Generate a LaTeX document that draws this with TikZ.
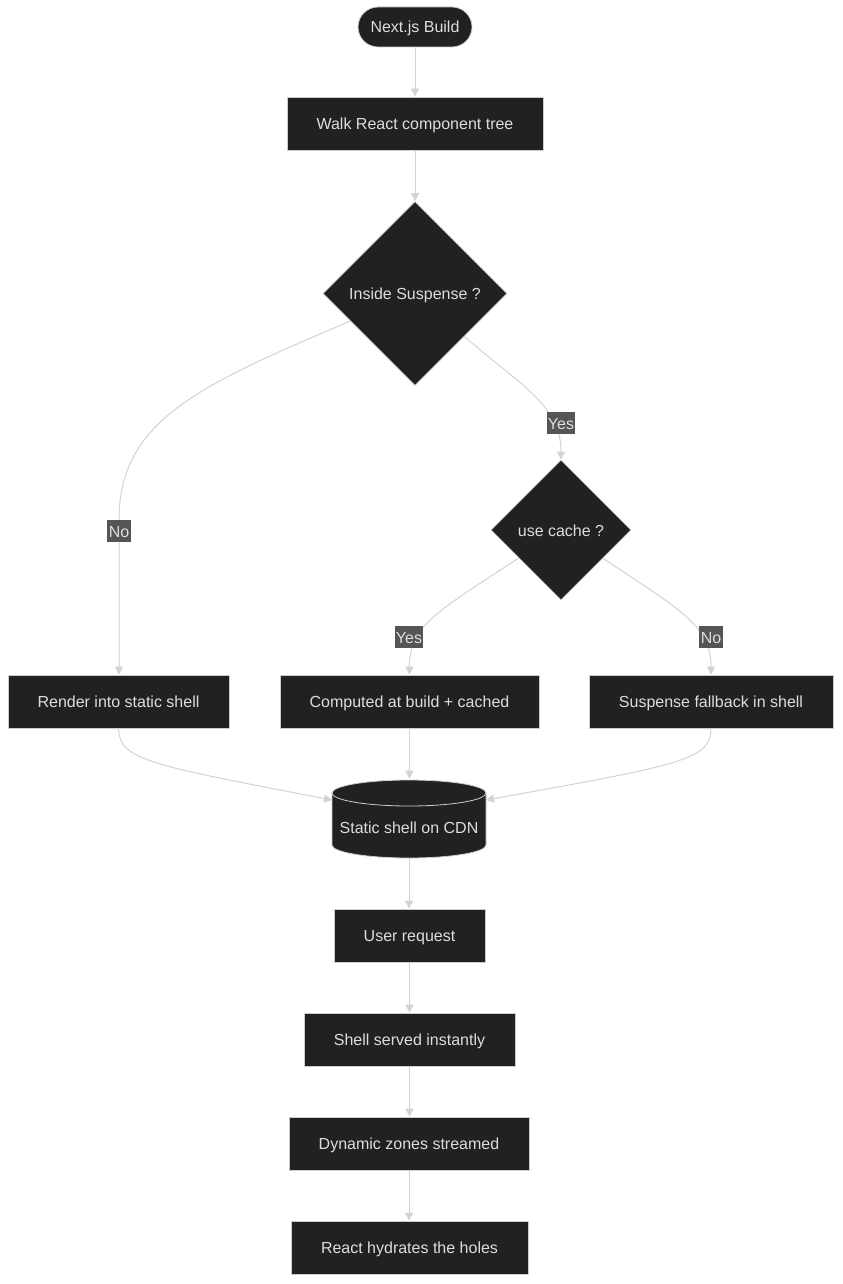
\documentclass[tikz,border=0pt]{standalone}
\usepackage{fontspec}
\setmainfont{Liberation Sans}
\usetikzlibrary{shapes.geometric,arrows.meta,calc}
\definecolor{nodefill}{RGB}{32,34,33}
\definecolor{nodeborder}{RGB}{204,204,204}
\definecolor{nodetext}{RGB}{221,221,221}
\definecolor{edgecol}{RGB}{211,211,211}
\definecolor{lblfill}{RGB}{85,85,85}
\begin{document}
\begin{tikzpicture}[x=0.75pt,y=-0.75pt,
  base/.style={fill=nodefill, draw=nodeborder, line width=0.6pt, text=nodetext,
    font=\fontsize{12}{14}\selectfont, inner sep=0pt, text height=9pt, text depth=0pt},
  box/.style={base, rectangle, minimum height=39.75pt},
  term/.style={base, rectangle, rounded corners=15pt, minimum height=30pt, minimum width=85.5pt},
  decide/.style={base, diamond, aspect=1},
  cylnode/.style={rectangle, inner sep=0pt, text=nodetext, font=\fontsize{12}{14}\selectfont,
    minimum width=115.5pt, minimum height=59.25pt, text height=9pt, text depth=0pt},
  edge/.style={draw=edgecol, line width=0.75pt, -{Triangle[length=6pt,width=6pt]}},
  lbl/.style={fill=lblfill, text=nodetext, font=\fontsize{12}{14}\selectfont, inner sep=1pt,
    minimum height=17pt, text height=9pt, text depth=0pt}
]
\useasboundingbox (0,0) rectangle (842,1284);
\fill[white] (0,0) rectangle (842,1284);

% nodes
\node[term] (build) at (415,27) {Next.js Build};
\node[box, minimum width=192pt] (walk) at (415,123.5) {Walk React component tree};
\node[decide, minimum width=138pt, minimum height=138pt] (inside) at (415,293.5) {Inside Suspense ?};
\node[decide, minimum width=105pt, minimum height=105pt] (ucache) at (561,530) {use cache ?};
\node[box, minimum width=165.75pt] (render) at (118.5,701.5) {Render into static shell};
\node[box, minimum width=194.25pt] (computed) at (409.5,701.5) {Computed at build + cached};
\node[box, minimum width=183pt] (fallback) at (711,701.5) {Suspense fallback in shell};

% cylinder
\path[fill=nodefill, draw=nodeborder, line width=0.6pt]
  (332,793) -- (332,845) arc[start angle=180, end angle=0, x radius=77, y radius=13]
  -- (486,793) arc[start angle=0, end angle=-180, x radius=77, y radius=13] -- cycle;
\draw[nodeborder, line width=0.6pt] (332,793) arc[start angle=180, end angle=0, x radius=77, y radius=13];
\node[cylnode] (cdn) at (409,818.5) {\raisebox{-7pt}[\height][\depth]{Static shell on CDN}};
\coordinate (cdnL) at (332,800);
\coordinate (cdnR) at (486,800);

\node[box, minimum width=113.25pt] (user) at (409.5,935.5) {User request};
\node[box, minimum width=158.25pt] (shell) at (409.5,1039.5) {Shell served instantly};
\node[box, minimum width=180pt] (dyn) at (409,1143.5) {Dynamic zones streamed};
\node[box, minimum width=177.75pt] (hydr) at (409.5,1247.5) {React hydrates the holes};

% edges
\draw[edge] (build) -- (walk);
\draw[edge] (walk) -- (inside);
\draw[edge] (inside) .. controls (200,385) and (119,420) .. (119,520) -- (render.north -| 119,0);
\draw[edge] (inside) .. controls (520,385) and (561,405) .. (ucache.north);
\draw[edge] (ucache) .. controls (440,610) and (409,625) .. (computed.north);
\draw[edge] (ucache) .. controls (680,610) and (711,625) .. (fallback.north);
\draw[edge] (render.south) .. controls (119,760) and (150,765) .. (cdnL);
\draw[edge] (computed.south) -- (computed.south |- cdn.north);
\draw[edge] (fallback.south) .. controls (711,760) and (680,765) .. (cdnR);
\draw[edge] (cdn.south) -- (cdn.south |- user.north);
\draw[edge] (user.south) -- (user.south |- shell.north);
\draw[edge] (shell.south) -- (shell.south |- dyn.north);
\draw[edge] (dyn.south) -- (dyn.south |- hydr.north);

% edge labels
\node[lbl] (lno1) at (119,531) {No};
\node[lbl] (lyes1) at (561,423) {Yes};
\node[lbl] (lyes2) at (409,637) {Yes};
\node[lbl] (lno2) at (711,637) {No};
\end{tikzpicture}
\end{document}
